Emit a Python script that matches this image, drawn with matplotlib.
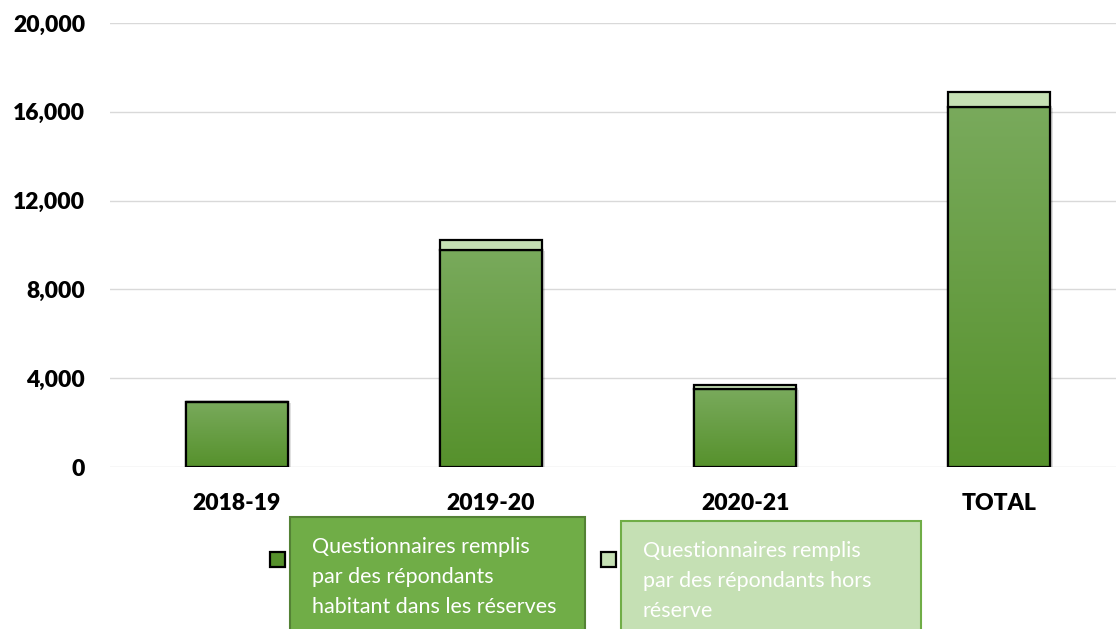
import matplotlib
matplotlib.use("Agg")
import matplotlib.pyplot as plt
import numpy as np
from matplotlib.patches import Rectangle
from matplotlib.colors import LinearSegmentedColormap
from matplotlib.ticker import FuncFormatter

categories = ["2018-19", "2019-20", "2020-21", "TOTAL"]
on_reserve = [2930, 9780, 3510, 16220]
off_reserve = [20, 460, 190, 680]
yticks = [0, 4000, 8000, 12000, 16000, 20000]
legend_labels = ["Questionnaires remplis\npar des répondants\nhabitant dans les réserves",
                 "Questionnaires remplis\npar des répondants hors\nréserve"]

plt.rcParams['font.family'] = ['Lato', 'DejaVu Sans']

W, H = 1116, 629
fig = plt.figure(figsize=(W / 100, H / 100), dpi=100)
ax = fig.add_axes([110 / W, 1 - 467 / H, 1 - 110 / W, (467 - 23) / H])

dark_top = "#79aa5c"
dark_bot = "#56912c"
light = "#c5e0b4"
x = np.arange(len(categories))
width = 0.4

cmap = LinearSegmentedColormap.from_list("g", [dark_bot, dark_top])
grad = np.linspace(0, 1, 256).reshape(-1, 1)

bars = ax.bar(x, on_reserve, width, color=dark_bot, edgecolor="black", linewidth=1.6, zorder=3)
for b in bars:
    x0, y0, w, h = b.get_x(), b.get_y(), b.get_width(), b.get_height()
    im = ax.imshow(grad, cmap=cmap, origin="lower", extent=(x0, x0 + w, y0, y0 + h),
                   aspect="auto", zorder=3.1)
    im.set_clip_path(b)
    ax.add_patch(Rectangle((x0, y0), w, h, facecolor="none", edgecolor="black",
                           linewidth=1.6, zorder=3.2))
    # subtle shadow
    ax.add_patch(Rectangle((x0 + 0.012, y0 - 60), w, h, facecolor="#000000", alpha=0.12,
                           edgecolor="none", zorder=2.5))
ax.bar(x, off_reserve, width, bottom=on_reserve, color=light, edgecolor="black",
       linewidth=1.6, zorder=3.3)

ax.set_xlim(-0.5, 3.46)
ax.set_ylim(0, 20000)
ax.set_yticks(yticks)
ax.yaxis.set_major_formatter(FuncFormatter(lambda v, p: f"{int(v):,}"))
ax.set_xticks(x)
ax.set_xticklabels(categories)
ax.grid(axis="y", color="#d9d9d9", linewidth=1.0, zorder=0)
ax.set_axisbelow(True)
for s in ax.spines.values():
    s.set_visible(False)
ax.tick_params(length=0)
ax.tick_params(axis="y", pad=18, labelsize=16.5)
ax.tick_params(axis="x", pad=19, labelsize=16.5)
for t in ax.get_xticklabels() + ax.get_yticklabels():
    t.set_fontweight("heavy")

# Legend
def fx(px):
    return px / W

def fy(py):
    return 1 - py / H

# markers
for mx, col in [(270, dark_bot), (601, light)]:
    fig.patches.append(Rectangle((fx(mx), fy(567)), 15 / W, 15 / H, facecolor=col,
                                 edgecolor="black", linewidth=1.6, transform=fig.transFigure))
# boxes
fig.patches.append(Rectangle((fx(290), fy(640)), 295 / W, 123 / H, facecolor="#70ad47",
                             edgecolor="#548235", linewidth=1.5, transform=fig.transFigure))
fig.patches.append(Rectangle((fx(621), fy(640)), 300 / W, 119 / H, facecolor=light,
                             edgecolor="#70ad47", linewidth=1.5, transform=fig.transFigure))

for (tx, ty), lab in zip([(312, 547), (643, 551)], legend_labels):
    for i, line in enumerate(lab.split("\n")):
        fig.text(fx(tx), fy(ty + i * 30), line, color="white", fontsize=15.5,
                 ha="left", va="center")

fig.savefig("out.png", dpi=100)
